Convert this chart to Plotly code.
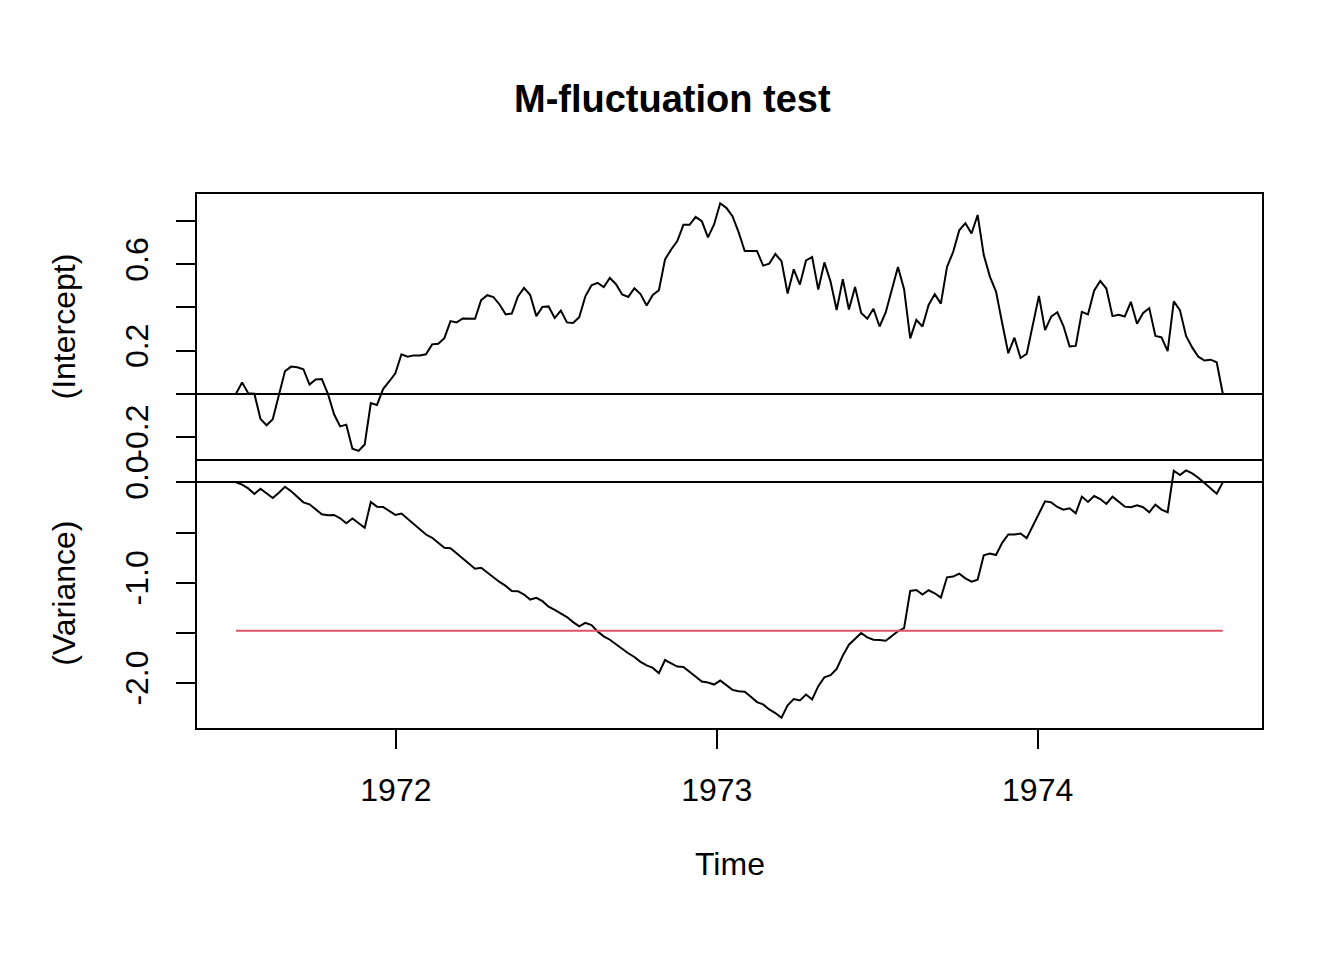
import numpy as np
import plotly.graph_objects as go

# time span of the weekly fluctuation process (decimal years)
START = 1971.5016
END = 1974.577

INTERCEPT = [
    0.0, 0.052, 0.003, 0.0, -0.117, -0.146, -0.118, -0.012, 0.105, 0.126,
    0.123, 0.114, 0.043, 0.066, 0.068, 0.0, -0.095, -0.151, -0.143, -0.255,
    -0.265, -0.235, -0.043, -0.052, 0.022, 0.057, 0.095, 0.183, 0.172, 0.178,
    0.178, 0.183, 0.229, 0.232, 0.258, 0.337, 0.331, 0.349, 0.349, 0.348,
    0.434, 0.457, 0.448, 0.414, 0.368, 0.372, 0.451, 0.491, 0.458, 0.36,
    0.403, 0.405, 0.351, 0.386, 0.331, 0.328, 0.355, 0.452, 0.503, 0.514,
    0.495, 0.537, 0.508, 0.46, 0.449, 0.489, 0.462, 0.409, 0.458, 0.48,
    0.623, 0.669, 0.708, 0.783, 0.783, 0.82, 0.8, 0.725, 0.785, 0.883,
    0.862, 0.823, 0.749, 0.662, 0.662, 0.662, 0.594, 0.603, 0.648, 0.615,
    0.465, 0.577, 0.506, 0.618, 0.634, 0.483, 0.609, 0.52, 0.388, 0.531,
    0.391, 0.495, 0.375, 0.348, 0.394, 0.312, 0.377, 0.483, 0.588, 0.485,
    0.257, 0.342, 0.312, 0.412, 0.462, 0.418, 0.588, 0.657, 0.758, 0.791,
    0.743, 0.829, 0.643, 0.543, 0.474, 0.328, 0.188, 0.26, 0.166, 0.185,
    0.315, 0.454, 0.295, 0.358, 0.378, 0.314, 0.22, 0.222, 0.38, 0.368,
    0.478, 0.523, 0.488, 0.36, 0.366, 0.358, 0.426, 0.325, 0.375, 0.397,
    0.268, 0.262, 0.198, 0.428, 0.388, 0.268, 0.215, 0.172, 0.154, 0.158,
    0.146, 0.0,
]

VARIANCE = [
    0.0, -0.023, -0.06, -0.116, -0.063, -0.109, -0.156, -0.103, -0.043, -0.089,
    -0.142, -0.199, -0.219, -0.265, -0.318, -0.328, -0.325, -0.358, -0.407, -0.361,
    -0.407, -0.454, -0.195, -0.242, -0.245, -0.288, -0.325, -0.311, -0.364, -0.417,
    -0.47, -0.52, -0.553, -0.603, -0.652, -0.656, -0.709, -0.758, -0.808, -0.861,
    -0.851, -0.901, -0.95, -0.993, -1.033, -1.083, -1.086, -1.119, -1.169, -1.152,
    -1.185, -1.24, -1.272, -1.308, -1.344, -1.394, -1.437, -1.401, -1.424, -1.487,
    -1.536, -1.57, -1.616, -1.656, -1.705, -1.742, -1.791, -1.825, -1.851, -1.904,
    -1.772, -1.805, -1.838, -1.841, -1.891, -1.934, -1.987, -1.997, -2.017, -1.977,
    -2.026, -2.07, -2.083, -2.089, -2.139, -2.192, -2.215, -2.265, -2.301, -2.348,
    -2.225, -2.162, -2.175, -2.116, -2.166, -2.033, -1.944, -1.924, -1.861, -1.728,
    -1.619, -1.563, -1.503, -1.546, -1.57, -1.573, -1.58, -1.533, -1.485, -1.454,
    -1.083, -1.073, -1.119, -1.076, -1.106, -1.149, -0.947, -0.94, -0.911, -0.957,
    -0.99, -0.97, -0.728, -0.709, -0.725, -0.603, -0.52, -0.52, -0.51, -0.556,
    -0.437, -0.321, -0.189, -0.199, -0.245, -0.272, -0.258, -0.308, -0.142, -0.195,
    -0.136, -0.166, -0.215, -0.142, -0.192, -0.242, -0.248, -0.228, -0.248, -0.298,
    -0.222, -0.272, -0.298, 0.116, 0.073, 0.119, 0.089, 0.046, -0.007, -0.06,
    -0.113, 0.0,
]

BOUNDARY = -1.48   # red reference level in the variance panel

YEARS = [1972, 1973, 1974]
TOP_TICKS = [-0.2, 0.0, 0.2, 0.4, 0.6, 0.8]
TOP_LABELS = ["-0.2", "", "0.2", "", "0.6", ""]
BOT_TICKS = [-2.0, -1.5, -1.0, -0.5, 0.0]
BOT_LABELS = ["-2.0", "", "-1.0", "", "0.0"]
TOP_RANGE = [-0.303, 0.926]
BOT_RANGE = [-2.455, 0.212]

W, H = 1344, 960
DY = -3.5          # small vertical nudge of the whole page
FONT = "Liberation Sans"


def px(x=None, y=None):
    """pixel -> paper coords"""
    if x is not None:
        return x / W
    return 1 - (y + DY) / H


time = np.linspace(START, END, len(INTERCEPT))
span = END - START
xr = [START - 0.04 * span, END + 0.04 * span]

fig = go.Figure()
fig.add_trace(go.Scatter(x=time, y=INTERCEPT, mode="lines", xaxis="x", yaxis="y",
                         line=dict(color="black", width=2), showlegend=False))
fig.add_trace(go.Scatter(x=time, y=VARIANCE, mode="lines", xaxis="x2", yaxis="y2",
                         line=dict(color="black", width=2), showlegend=False))
fig.add_trace(go.Scatter(x=[time[0], time[-1]], y=[BOUNDARY, BOUNDARY], mode="lines",
                         xaxis="x2", yaxis="y2", line=dict(color="#DF536B", width=2),
                         showlegend=False))

xdom = [px(x=196.5), px(x=1262.3)]
ax_common = dict(showline=True, linecolor="black", linewidth=2, mirror=True,
                 showgrid=False, zeroline=False)
tickfont = dict(family=FONT, size=32, color="black")

fig.update_layout(
    width=W, height=H, margin=dict(l=0, r=0, t=0, b=0),
    plot_bgcolor="white", paper_bgcolor="white",
    xaxis=dict(domain=xdom, range=xr, anchor="y", showticklabels=False, ticks="", **ax_common),
    xaxis2=dict(domain=xdom, range=xr, anchor="y2", matches="x", tickvals=YEARS,
                ticktext=[str(v) for v in YEARS], ticks="outside", ticklen=19, tickwidth=2,
                tickcolor="black", tickfont=tickfont, ticklabelstandoff=13, **ax_common),
    yaxis=dict(domain=[px(y=459.5), px(y=192.7)], range=TOP_RANGE, anchor="x",
               tickvals=TOP_TICKS, ticktext=TOP_LABELS, ticks="outside", ticklen=19,
               tickwidth=2, tickcolor="black", tickangle=-90, tickfont=tickfont,
               ticklabelstandoff=15, **ax_common),
    yaxis2=dict(domain=[px(y=730.5), px(y=461.5)], range=BOT_RANGE, anchor="x2",
                tickvals=BOT_TICKS, ticktext=BOT_LABELS, ticks="outside", ticklen=19,
                tickwidth=2, tickcolor="black", tickangle=-90, tickfont=tickfont,
                ticklabelstandoff=15, **ax_common),
)

# zero lines across both panels
fig.update_yaxes(zeroline=True, zerolinecolor="black", zerolinewidth=1.6)

ann = dict(xref="paper", yref="paper", showarrow=False, xanchor="center", yanchor="middle")
fig.add_annotation(text="<b>M-fluctuation test</b>", x=0.5, y=px(y=97),
                   font=dict(family=FONT, size=38, color="black"), **ann)
fig.add_annotation(text="Time", x=px(x=729.5), y=px(y=867), font=tickfont, **ann)
fig.add_annotation(text="(Intercept)", x=px(x=64), y=px(y=326), textangle=-90,
                   font=tickfont, **ann)
fig.add_annotation(text="(Variance)", x=px(x=64), y=px(y=595), textangle=-90,
                   font=tickfont, **ann)

fig.write_html("out.html", config={"displayModeBar": False},
               post_script="document.body.style.margin='0px';")
